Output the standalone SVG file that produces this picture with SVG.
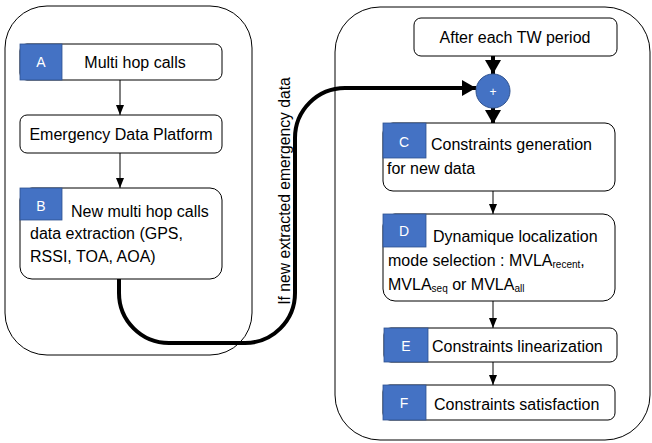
<svg xmlns="http://www.w3.org/2000/svg" width="652" height="443" viewBox="0 0 652 443">
<defs>
<style>
text{font-family:"Liberation Sans",Arial,sans-serif;font-size:16px;fill:#000}
.box{fill:#fff;stroke:#000;stroke-width:1}
.cont{fill:#fff;stroke:#000;stroke-width:1}
.tag{fill:#4472C4;stroke:#2F528F;stroke-width:0.8}
.tl{fill:#fff;font-size:14px;text-anchor:middle}
.thin{stroke:#000;stroke-width:1;fill:none}
.thick{stroke:#000;stroke-width:4;fill:none}
.sub{font-size:10px}
</style>
<marker id="ah" markerUnits="userSpaceOnUse" markerWidth="10" markerHeight="10" viewBox="0 0 10 10" refX="10" refY="5" orient="auto"><path d="M0,1 L10,5 L0,9 z" fill="#000"/></marker>
<marker id="ahb" markerUnits="userSpaceOnUse" markerWidth="14" markerHeight="16" viewBox="0 0 14 16" refX="14" refY="8" orient="auto"><path d="M0,0 L14,8 L0,16 z" fill="#000"/></marker>
</defs>

<g id="left-container"><rect class="cont" x="5" y="6" width="247" height="349" rx="42"/></g>
<g id="right-container"><rect class="cont" x="335" y="7" width="315" height="433" rx="45"/></g>

<g id="connectors">
<line class="thin" x1="120" y1="80" x2="120" y2="115" marker-end="url(#ah)"/>
<line class="thin" x1="120" y1="153" x2="120" y2="188" marker-end="url(#ah)"/>
<path class="thick" d="M119,270 V293 A50,50 0 0 0 169,343 H245 A50,50 0 0 0 295,293 V138 A50,50 0 0 1 345,88 H476" marker-end="url(#ahb)"/>
<line class="thick" x1="493" y1="56" x2="493" y2="74" marker-end="url(#ahb)"/>
<line class="thick" x1="493" y1="108" x2="493" y2="124" marker-end="url(#ahb)"/>
<line class="thin" x1="493" y1="191" x2="493" y2="214" marker-end="url(#ah)"/>
<line class="thin" x1="493" y1="301" x2="493" y2="328" marker-end="url(#ah)"/>
<line class="thin" x1="493" y1="362" x2="493" y2="385" marker-end="url(#ah)"/>
<text transform="translate(290,191) rotate(-90)" text-anchor="middle" style="font-size:15.7px">If new extracted emergency data</text>
</g>

<g id="node-A">
<rect class="box" x="20" y="44" width="202" height="36" rx="7"/>
<rect class="tag" x="20" y="44" width="42" height="36"/>
<text class="tl" x="41" y="67">A</text>
<text x="135" y="67.5" text-anchor="middle">Multi hop calls</text>
</g>

<g id="node-EDP">
<rect class="box" x="20" y="115" width="202" height="38" rx="7"/>
<text x="121" y="140" text-anchor="middle">Emergency Data Platform</text>
</g>

<g id="node-B">
<rect class="box" x="20" y="188" width="202" height="91" rx="12"/>
<rect class="tag" x="20" y="188" width="42" height="32"/>
<text class="tl" x="41" y="211">B</text>
<text x="71" y="216.5">New multi hop calls</text>
<text x="30" y="238.5">data extraction (GPS,</text>
<text x="30" y="262">RSSI, TOA, AOA)</text>
</g>

<g id="node-TW">
<rect class="box" x="414" y="18" width="203" height="38" rx="7"/>
<text x="515" y="42.5" text-anchor="middle">After each TW period</text>
</g>

<g id="node-plus">
<circle cx="493" cy="91" r="17" fill="#4472C4" stroke="#2F528F" stroke-width="1"/>
<text x="493" y="95.5" text-anchor="middle" style="fill:#fff;font-size:12px">+</text>
</g>

<g id="node-C">
<rect class="box" x="383" y="123" width="232" height="68" rx="10"/>
<rect class="tag" x="383" y="123" width="43" height="35"/>
<text class="tl" x="404" y="147">C</text>
<text x="431" y="149.5">Constraints generation</text>
<text x="387" y="173.5">for new data</text>
</g>

<g id="node-D">
<rect class="box" x="383" y="214" width="232" height="87" rx="12"/>
<rect class="tag" x="383" y="214" width="43" height="33"/>
<text class="tl" x="404" y="236">D</text>
<text x="433" y="241.5">Dynamique localization</text>
<text x="388" y="265.5">mode selection : MVLA<tspan class="sub" dy="2">recent</tspan><tspan dy="-2">,</tspan></text>
<text x="388" y="289.5">MVLA<tspan class="sub" dy="2">seq</tspan><tspan dy="-2"> or MVLA</tspan><tspan class="sub" dy="2">all</tspan></text>
</g>

<g id="node-E">
<rect class="box" x="384" y="328" width="233" height="34" rx="7"/>
<rect class="tag" x="384" y="328" width="44" height="34"/>
<text class="tl" x="406" y="351">E</text>
<text x="432" y="351.5">Constraints linearization</text>
</g>

<g id="node-F">
<rect class="box" x="383" y="385" width="232" height="35" rx="7"/>
<rect class="tag" x="383" y="385" width="43" height="35"/>
<text class="tl" x="404" y="408">F</text>
<text x="434" y="409.5">Constraints satisfaction</text>
</g>
</svg>
